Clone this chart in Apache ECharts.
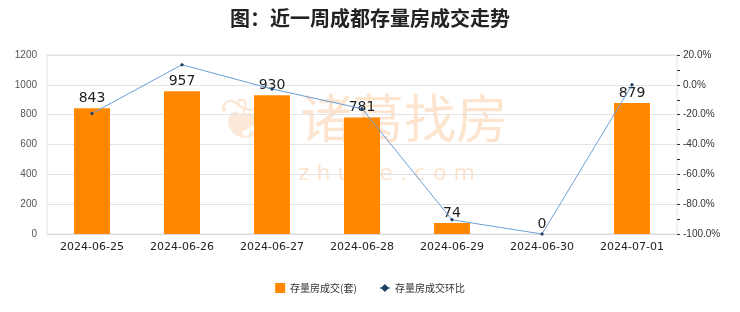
<!DOCTYPE html>
<html>
<head>
<meta charset="utf-8">
<script src="https://cdn.jsdelivr.net/npm/echarts@6/dist/echarts.min.js"></script>
<style>
  html, body { margin: 0; padding: 0; background: #fff; }
  #main { width: 740px; height: 312px; }
</style>
</head>
<body>
<div id="main"></div>
<script>
// 日期
const dates = ['2024-06-25', '2024-06-26', '2024-06-27', '2024-06-28', '2024-06-29', '2024-06-30', '2024-07-01'];
// 存量房成交(套)
const deals = [843, 957, 930, 781, 74, 0, 879];
// 环比 (%)
const ratio = [-19.2, 13.5, -2.8, -16.0, -90.5, -100.0, 0.0];

const myChart = echarts.init(document.getElementById('main'));

const option = {
    backgroundColor: '#fff',
    title: {
        text: '图：近一周成都存量房成交走势',
        left: 'center',
        top: 3,
        textStyle: { fontSize: 20, fontWeight: 'bold', color: '#222', fontFamily: 'Noto Sans CJK SC' }
    },
    legend: {
        bottom: 14,
        left: 'center',
        itemWidth: 10,
        itemHeight: 10,
        itemGap: 22,
        textStyle: { fontSize: 10, color: '#333', fontFamily: 'Noto Sans CJK SC' },
        data: [
            { name: '存量房成交(套)', icon: 'rect' },
            { name: '存量房成交环比' }
        ]
    },
    grid: {
        left: 47,
        right: 63,
        top: 55,
        bottom: 78,
        show: true,
        borderColor: '#e3e3e3',
        borderWidth: 1
    },
    graphic: [
        {
            type: 'text',
            left: 300,
            top: 92,
            silent: true,
            z: 0,
            style: {
                text: '诸葛找房',
                fontSize: 52,
                fontFamily: 'Noto Sans CJK SC',
                fill: 'rgba(244, 164, 96, 0.3)'
            }
        },
        {
            type: 'text',
            left: 298,
            top: 163,
            silent: true,
            z: 0,
            style: {
                text: 'z h u g e . c o m',
                fontSize: 22,
                fontFamily: 'DejaVu Sans',
                fill: 'rgba(244, 164, 96, 0.3)'
            }
        },
        {
            type: 'text',
            left: 218,
            top: 95,
            silent: true,
            z: 0,
            style: {
                text: '❦',
                fontSize: 58,
                fontFamily: 'DejaVu Sans',
                fill: 'rgba(244, 164, 96, 0.25)'
            }
        }
    ],
    xAxis: {
        type: 'category',
        data: dates,
        axisLine: { lineStyle: { color: '#d9d9d9' } },
        axisTick: { show: false },
        axisLabel: { interval: 0, fontSize: 11, color: '#222', margin: 8, fontFamily: 'DejaVu Sans' }
    },
    yAxis: [
        {
            type: 'value',
            min: 0,
            max: 1200,
            interval: 200,
            axisLine: { show: false },
            axisTick: { show: false },
            axisLabel: { fontSize: 10, color: '#555', margin: 10, formatter: (v) => String(v) },
            splitLine: { lineStyle: { color: '#e3e3e3' } }
        },
        {
            type: 'value',
            min: -100,
            max: 20,
            interval: 20,
            position: 'right',
            axisLine: { show: false },
            axisTick: { show: true, inside: false, length: 3, lineStyle: { color: '#333' } },
            minorTick: { show: true, splitNumber: 2, length: 3, lineStyle: { color: '#333' } },
            axisLabel: {
                fontSize: 10,
                color: '#333',
                margin: 6,
                formatter: (v) => v.toFixed(1) + '%'
            },
            splitLine: { show: false }
        }
    ],
    series: [
        {
            name: '存量房成交(套)',
            type: 'bar',
            data: deals,
            barWidth: 36,
            itemStyle: { color: '#ff8800' },
            label: {
                show: true,
                position: 'top',
                fontSize: 14,
                color: '#222',
                distance: 3,
                fontFamily: 'DejaVu Sans'
            },
            z: 2
        },
        {
            name: '存量房成交环比',
            type: 'line',
            yAxisIndex: 1,
            data: ratio,
            symbol: 'diamond',
            symbolSize: 4,
            lineStyle: { color: '#6a9fd4', width: 1 },
            itemStyle: { color: '#1f3f66' },
            z: 3
        }
    ]
};

myChart.setOption(option);
</script>
</body>
</html>
